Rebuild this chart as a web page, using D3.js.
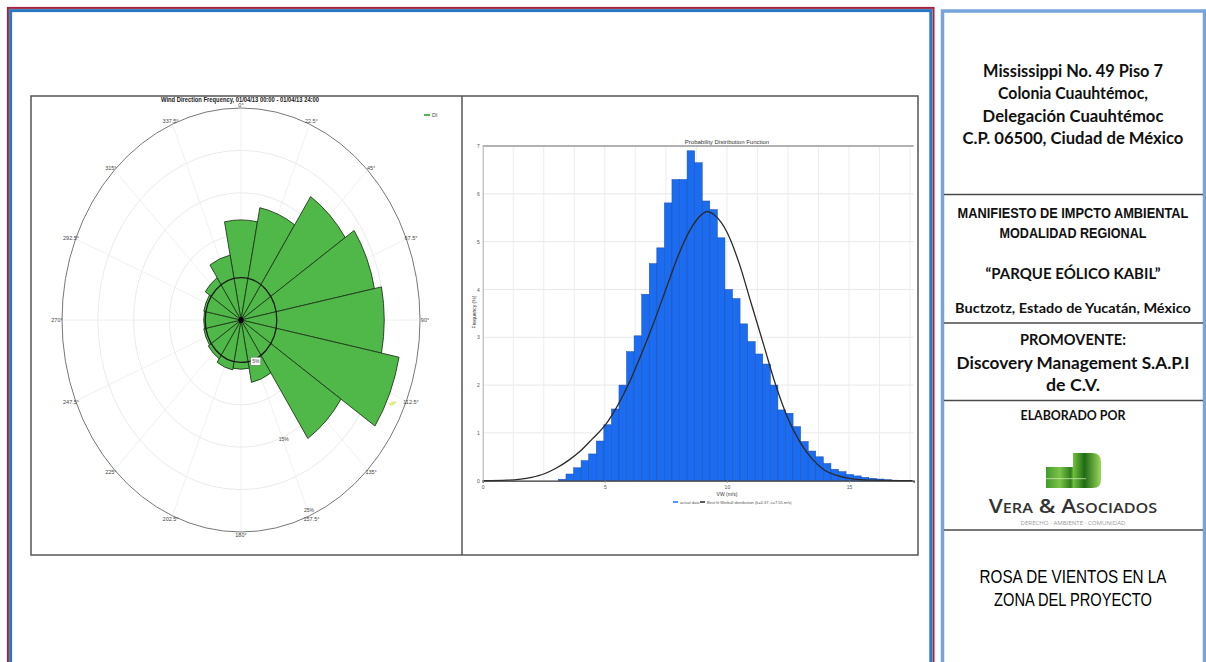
<!DOCTYPE html>
<html>
<head>
<meta charset="utf-8">
<script src="https://cdn.jsdelivr.net/npm/d3@7"></script>
<style>
body { margin: 0; background: #fff; }
svg { display: block; font-family: "Liberation Sans", Arial, sans-serif; }
</style>
</head>
<body>
<svg id="page" width="1206" height="662"></svg>
<script>
// ---- wind rose data (frequency %, one value per 22.5 deg sector) ----
var directions = ["0°", "22.5°", "45°", "67.5°", "90°", "112.5°", "135°", "157.5°",
                  "180°", "202.5°", "225°", "247.5°", "270°", "292.5°", "315°", "337.5°"];
var windFreq = [11.8, 13.5, 17.5, 19.0, 20.0, 22.5, 16.8, 7.5,
                5.8, 6.0, 5.5, 5.3, 5.2, 5.3, 6.0, 7.8];
var ringTicks = [5, 10, 15, 20];
var ringLabels = ["5%", "15%", "25%"];
var ringLabelValues = [5, 15, 25];

// ---- histogram data (wind speed m/s, frequency %) ----
var binStart = 3.1, binWidth = 0.31;
var histFreq = [0.03, 0.14, 0.27, 0.42, 0.56, 0.83, 1.17, 1.50, 2.00, 2.70,
                3.03, 3.90, 4.54, 4.87, 5.81, 6.30, 6.30, 6.90, 6.65, 5.85,
                5.67, 5.08, 4.00, 3.81, 3.28, 2.91, 2.65, 2.44, 2.00, 1.48,
                1.41, 1.13, 0.82, 0.62, 0.50, 0.36, 0.24, 0.19, 0.13, 0.10,
                0.07, 0.05, 0.035, 0.02, 0.01];
var weibullSpeed = [0, 1, 2, 2.5, 3, 3.5, 4, 4.5, 5, 5.5, 6, 6.5, 7, 7.5, 8, 8.5, 9, 9.2,
                    9.5, 10, 10.5, 11, 11.5, 12, 12.5, 13, 13.5, 14, 14.5, 15, 16, 17.6];
var weibullFreq = [0, 0.01, 0.07, 0.14, 0.26, 0.42, 0.62, 0.88, 1.15, 1.55, 2.05, 2.65,
                   3.3, 4.0, 4.7, 5.25, 5.58, 5.63, 5.55, 5.2, 4.55, 3.7, 2.85, 2.0,
                   1.3, 0.8, 0.45, 0.22, 0.11, 0.05, 0.01, 0];
var xTicks = [0, 5, 10, 15];
var yTicks = [0, 1, 2, 3, 4, 5, 6, 7];

var svg = d3.select("#page");

// ---- page frames ----
svg.append("rect").attr("x", 7.9).attr("y", 7.9).attr("width", 925.6).attr("height", 700)
    .attr("fill", "none").attr("stroke", "#a3223f").attr("stroke-width", 2);
svg.append("rect").attr("x", 10.6).attr("y", 10.6).attr("width", 920.2).attr("height", 700)
    .attr("fill", "none").attr("stroke", "#2b78c2").attr("stroke-width", 3);
svg.append("rect").attr("x", 942.5).attr("y", 11).attr("width", 262).attr("height", 700)
    .attr("fill", "none").attr("stroke", "#76a5dc").attr("stroke-width", 3.5);

// image box
svg.append("rect").attr("x", 31).attr("y", 96).attr("width", 887).attr("height", 459)
    .attr("fill", "#fff").attr("stroke", "#555").attr("stroke-width", 1.5);
svg.append("line").attr("x1", 462).attr("x2", 462).attr("y1", 96).attr("y2", 555)
    .attr("stroke", "#555").attr("stroke-width", 1.5);

// ================= WIND ROSE =================
var cx = 241, cy = 320, rx = 179, ry = 212, sy = ry / rx;
var r = d3.scaleLinear().domain([0, 25]).range([0, rx]);
var angle = d3.scaleBand().domain(directions)
    .range([-Math.PI / 16, 2 * Math.PI - Math.PI / 16]);

var rose = svg.append("g")
    .attr("transform", "translate(" + cx + "," + cy + ") scale(1," + sy + ")");

// faint grid
rose.selectAll(".ring").data(ringTicks).enter().append("circle")
    .attr("r", function(d) { return r(d); })
    .attr("fill", "none").attr("stroke", "#e4e4e4").attr("stroke-width", 0.8)
    .attr("vector-effect", "non-scaling-stroke");
rose.selectAll(".spoke").data(directions).enter().append("line")
    .attr("x1", 0).attr("y1", 0)
    .attr("x2", function(d) { return r(25) * Math.sin(angle(d) + angle.bandwidth() / 2); })
    .attr("y2", function(d) { return -r(25) * Math.cos(angle(d) + angle.bandwidth() / 2); })
    .attr("stroke", "#ececec").attr("stroke-width", 0.8)
    .attr("vector-effect", "non-scaling-stroke");
rose.append("circle").attr("r", r(25))
    .attr("fill", "none").attr("stroke", "#777").attr("stroke-width", 1)
    .attr("vector-effect", "non-scaling-stroke");

// sectors
var arc = d3.arc().innerRadius(0);
rose.selectAll(".sector").data(directions).enter().append("path")
    .attr("d", function(d, i) {
        return arc({ outerRadius: r(windFreq[i]), startAngle: angle(d), endAngle: angle(d) + angle.bandwidth() });
    })
    .attr("fill", "#50b848").attr("stroke", "#1f3b1c").attr("stroke-width", 0.9)
    .attr("vector-effect", "non-scaling-stroke");

rose.append("circle").attr("r", r(5))
    .attr("fill", "none").attr("stroke", "#1a1a1a").attr("stroke-width", 1.3)
    .attr("vector-effect", "non-scaling-stroke");
rose.append("circle").attr("r", 2.6).attr("fill", "#000");

// direction labels
var labelAngle = function(d) { return angle(d) + angle.bandwidth() / 2; };
svg.append("g").selectAll("text").data(directions).enter().append("text")
    .attr("x", function(d) { return cx + (rx + 5) * Math.sin(labelAngle(d)); })
    .attr("y", function(d) { return cy - (ry + 3) * Math.cos(labelAngle(d)) + 2; })
    .attr("text-anchor", "middle").attr("font-size", 5.5).attr("fill", "#444")
    .text(function(d) { return d; });

// ring labels
var ringAng = 157 * Math.PI / 180;
var ringPos = function(d) { return Math.min(r(d) + 2, r(24.3)); };
var rl = svg.append("g").selectAll("g").data(ringLabelValues).enter().append("g")
    .attr("transform", function(d) {
        return "translate(" + (cx + ringPos(d) * Math.sin(ringAng)) + "," + (cy - ringPos(d) * sy * Math.cos(ringAng)) + ")";
    });
rl.filter(function(d, i) { return i === 0; }).append("rect")
    .attr("x", -5).attr("y", -4).attr("width", 10).attr("height", 8)
    .attr("fill", "#fff").attr("stroke", "#666").attr("stroke-width", 0.5);
rl.append("text").attr("text-anchor", "middle").attr("y", 2)
    .attr("font-size", 5).attr("fill", "#444")
    .text(function(d, i) { return ringLabels[i]; });

// title + legend
svg.append("text").attr("x", 240).attr("y", 102).attr("text-anchor", "middle")
    .attr("font-size", 7).attr("font-weight", "bold").attr("fill", "#222")
    .attr("textLength", 158).attr("lengthAdjust", "spacingAndGlyphs")
    .text("Wind Direction Frequency, 01/04/13 00:00 - 01/04/13 24:00");
svg.append("line").attr("x1", 424).attr("x2", 430).attr("y1", 115).attr("y2", 115)
    .attr("stroke", "#50b848").attr("stroke-width", 2);
svg.append("text").attr("x", 432).attr("y", 117).attr("font-size", 5.5).attr("fill", "#444").text("DI");
// small legend marker near 112.5°
svg.append("path").attr("d", "M388,404 l6,-3 l3,1 l-5,4 z").attr("fill", "#d6e86a").attr("opacity", 0.8);

// ================= HISTOGRAM =================
var hx = d3.scaleLinear().domain([0, 17.65]).range([482.7, 913.7]);
var hy = d3.scaleLinear().domain([0, 7]).range([480.7, 146]);
var hist = svg.append("g");

// grid
hist.selectAll(".hg").data(yTicks.slice(1, 7)).enter().append("line")
    .attr("x1", hx(0)).attr("x2", hx(17.65))
    .attr("y1", function(d) { return hy(d); }).attr("y2", function(d) { return hy(d); })
    .attr("stroke", "#e2e2e2").attr("stroke-width", 0.8);
hist.selectAll(".vg").data(d3.range(1.25, 17.6, 1.25)).enter().append("line")
    .attr("x1", function(d) { return hx(d); }).attr("x2", function(d) { return hx(d); })
    .attr("y1", hy(0)).attr("y2", hy(7))
    .attr("stroke", "#e8e8e8").attr("stroke-width", 0.8);
hist.append("line").attr("x1", hx(0)).attr("x2", hx(17.65)).attr("y1", hy(7)).attr("y2", hy(7))
    .attr("stroke", "#999").attr("stroke-width", 1.4);

// bars
hist.selectAll(".bar").data(histFreq).enter().append("rect")
    .attr("x", function(d, i) { return hx(binStart + i * binWidth); })
    .attr("width", hx(binWidth) - hx(0))
    .attr("y", function(d) { return hy(d); })
    .attr("height", function(d) { return hy(0) - hy(d); })
    .attr("fill", "#1b6cf0").attr("stroke", "#1a4fb0").attr("stroke-width", 0.5);

// weibull fit
var line = d3.line()
    .x(function(d, i) { return hx(weibullSpeed[i]); })
    .y(function(d) { return hy(d); })
    .curve(d3.curveMonotoneX);
hist.append("path").datum(weibullFreq).attr("d", line)
    .attr("fill", "none").attr("stroke", "#2a2a2a").attr("stroke-width", 1.3);

// axes
hist.append("g").attr("transform", "translate(0," + hy(0) + ")")
    .call(d3.axisBottom(hx).tickValues(xTicks).tickSize(2).tickFormat(d3.format("d")))
    .call(function(g) {
        g.select(".domain").attr("stroke", "#333").attr("stroke-width", 1.3);
        g.selectAll("text").attr("font-size", 5).attr("fill", "#555").attr("dy", "0.6em");
        g.selectAll("line").attr("stroke", "#888");
    });
hist.append("g").attr("transform", "translate(" + hx(0) + ",0)")
    .call(d3.axisLeft(hy).tickValues(yTicks).tickSize(0).tickFormat(d3.format("d")))
    .call(function(g) {
        g.select(".domain").attr("stroke", "#aaa");
        g.selectAll("text").attr("font-size", 5).attr("fill", "#555");
    });

hist.append("text").attr("x", 727).attr("y", 144).attr("text-anchor", "middle")
    .attr("font-size", 6).attr("fill", "#333").text("Probability Distribution Function");
hist.append("text").attr("transform", "translate(476,312) rotate(-90)").attr("text-anchor", "middle")
    .attr("font-size", 5).attr("fill", "#333").text("Frequency (%)");
hist.append("text").attr("x", 727).attr("y", 496).attr("text-anchor", "middle")
    .attr("font-size", 5).attr("fill", "#333").text("VW (m/s)");
hist.append("line").attr("x1", 673).attr("x2", 678).attr("y1", 502).attr("y2", 502)
    .attr("stroke", "#1b6cf0").attr("stroke-width", 1.5);
hist.append("text").attr("x", 680).attr("y", 503.5).attr("font-size", 4).attr("fill", "#555").text("actual data");
hist.append("line").attr("x1", 700).attr("x2", 705).attr("y1", 502).attr("y2", 502)
    .attr("stroke", "#222").attr("stroke-width", 1.5);
hist.append("text").attr("x", 707).attr("y", 503.5).attr("font-size", 4).attr("fill", "#555")
    .text("Best fit Weibull distribution (k=4.37, c=7.55 m/s)");

// ================= TITLE BLOCK =================
var tb = svg.append("g");
[194.5, 323, 400.5, 530].forEach(function(y) {
    tb.append("line").attr("x1", 944).attr("x2", 1203).attr("y1", y).attr("y2", y)
        .attr("stroke", "#4a4a4a").attr("stroke-width", 1.5);
});
var calibri = "Lato, 'Open Sans', sans-serif";
var narrow = "'Liberation Sans Narrow', 'Liberation Sans', Arial, sans-serif";
// text centred at x=1073, squeezed/stretched horizontally to the measured width
function addText(txt, y, size, family, weight, len, color) {
    var g = tb.append("g").attr("transform", "translate(1073," + y + ")");
    var t = g.append("text").attr("x", 0).attr("y", 0).attr("text-anchor", "middle")
        .attr("font-size", size).attr("font-family", family).attr("font-weight", weight)
        .attr("fill", color || "#111").text(txt);
    return t;
}
function fit(t, len) {
    var w = t.node().getComputedTextLength();
    if (w > 0) t.attr("transform", "scale(" + (len / w) + ",1)");
    return t;
}
fit(addText("Mississippi No. 49 Piso 7", 76.5, 16.5, calibri, "bold"), 180);
fit(addText("Colonia Cuauhtémoc,", 99, 16.5, calibri, "bold"), 150);
fit(addText("Delegación Cuauhtémoc", 121.5, 16.5, calibri, "bold"), 181);
fit(addText("C.P. 06500, Ciudad de México", 144, 16.5, calibri, "bold"), 221);

fit(addText("MANIFIESTO DE IMPCTO AMBIENTAL", 218, 14.5, narrow, "bold"), 231);
fit(addText("MODALIDAD REGIONAL", 237.5, 14.5, narrow, "bold"), 147);
fit(addText("\u201cPARQUE EÓLICO KABIL\u201d", 279, 16, calibri, "bold"), 175);
fit(addText("Buctzotz, Estado de Yucatán, México", 313, 13.5, calibri, "bold"), 236);

fit(addText("PROMOVENTE:", 345, 14.5, calibri, "bold"), 106);
fit(addText("Discovery Management S.A.P.I", 368.5, 16.5, calibri, "bold"), 233);
fit(addText("de C.V.", 391, 16.5, calibri, "bold"), 54);
fit(addText("ELABORADO POR", 419.5, 13, calibri, "bold"), 105);

// logo
var defs = svg.append("defs");
var grad = defs.append("linearGradient").attr("id", "leaf").attr("x1", 0).attr("x2", 1).attr("y1", 0).attr("y2", 0);
[["0", "#3f9a2a"], ["0.25", "#7cc448"], ["0.45", "#2f7d1c"], ["0.5", "#6fbe3c"], ["0.7", "#1f6a14"], ["1", "#9ad85a"]]
    .forEach(function(s) { grad.append("stop").attr("offset", s[0]).attr("stop-color", s[1]); });
tb.append("path")
    .attr("d", "M1046,467 L1073,467 L1073,453 L1092,453 Q1101,453 1101,462 L1101,480 Q1101,488 1093,488 L1046,488 Z")
    .attr("fill", "url(#leaf)");
tb.append("rect").attr("x", 1046).attr("y", 478).attr("width", 40).attr("height", 1.2).attr("fill", "#d8f0c0").attr("opacity", 0.6);
fit(addText("Vera & Asociados", 513, 19, "'Open Sans', sans-serif", "600", null, "#333")
    .style("font-variant", "small-caps"), 163);
fit(addText("DERECHO · AMBIENTE · COMUNIDAD", 524.5, 4.5, "'Open Sans', sans-serif", "normal", null, "#999"), 105);

fit(addText("ROSA DE VIENTOS EN LA", 583, 17.5, narrow, "normal", null, "#000"), 187);
fit(addText("ZONA DEL PROYECTO", 606, 17.5, narrow, "normal", null, "#000"), 158);
</script>
</body>
</html>
